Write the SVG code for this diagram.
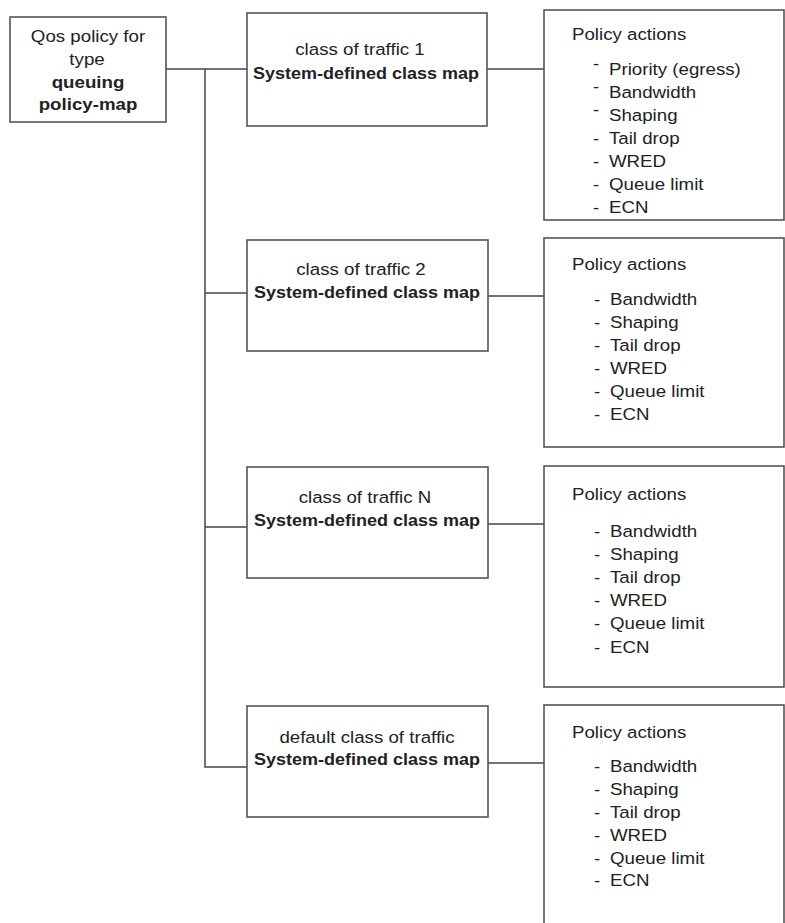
<svg xmlns="http://www.w3.org/2000/svg" width="785" height="923" viewBox="0 0 785 923">
<style>
.box{fill:#fff;stroke:#555;stroke-width:1.6}
.ln{stroke:#444;stroke-width:1.5;fill:none}
text{font-family:"Liberation Sans",Arial,sans-serif;fill:#222;font-size:17px}
.b{font-weight:bold}
.c{text-anchor:middle}
</style>
<rect width="785" height="923" fill="#fff"/>
<g id="connectors">
<path class="ln" d="M166 69H247M205 69V767H247M205 293H247M205 527H247"/>
<path class="ln" d="M487 69H544M488 296H544M488 524H544M488 763H544"/>
</g>
<g id="root">
<rect class="box" x="10" y="17" width="156" height="105"/>
<text class="c" transform="translate(88,42) scale(1.1,1)">Qos policy for</text>
<text class="c" transform="translate(87,65) scale(1.1,1)">type</text>
<text class="b c" transform="translate(88,88) scale(1.1,1)">queuing</text>
<text class="b c" transform="translate(88,110) scale(1.1,1)">policy-map</text>
</g>
<g id="class1">
<rect class="box" x="247" y="13" width="240" height="113"/>
<text class="c" transform="translate(360,55) scale(1.1,1)">class of traffic 1</text>
<text class="b c" transform="translate(366,79) scale(1.06,1)">System-defined class map</text>
</g>
<g id="class2">
<rect class="box" x="247" y="240" width="241" height="111"/>
<text class="c" transform="translate(361,275) scale(1.1,1)">class of traffic 2</text>
<text class="b c" transform="translate(367,298) scale(1.06,1)">System-defined class map</text>
</g>
<g id="classN">
<rect class="box" x="247" y="467" width="241" height="111"/>
<text class="c" transform="translate(365,503) scale(1.1,1)">class of traffic N</text>
<text class="b c" transform="translate(367,526) scale(1.06,1)">System-defined class map</text>
</g>
<g id="classDefault">
<rect class="box" x="247" y="706" width="241" height="111"/>
<text class="c" transform="translate(367,743) scale(1.1,1)">default class of traffic</text>
<text class="b c" transform="translate(367,765) scale(1.06,1)">System-defined class map</text>
</g>
<g id="actions1">
<rect class="box" x="544" y="10" width="240" height="210"/>
<g transform="translate(572,0) scale(1.1,1)">
<text x="0" y="40">Policy actions</text>
<text x="19" y="69">-</text><text x="33.6" y="75">Priority (egress)</text>
<text x="19" y="92">-</text><text x="33.6" y="98">Bandwidth</text>
<text x="19" y="115">-</text><text x="33.6" y="121">Shaping</text>
<text x="19" y="144">-</text><text x="33.6" y="144">Tail drop</text>
<text x="19" y="167">-</text><text x="33.6" y="167">WRED</text>
<text x="19" y="190">-</text><text x="33.6" y="190">Queue limit</text>
<text x="19" y="213">-</text><text x="33.6" y="213">ECN</text>
</g>
</g>
<g id="actions2">
<rect class="box" x="544" y="238" width="240" height="209"/>
<g transform="translate(572,0) scale(1.1,1)">
<text x="0" y="270">Policy actions</text>
<text x="20" y="305">-</text><text x="34.5" y="305">Bandwidth</text>
<text x="20" y="328">-</text><text x="34.5" y="328">Shaping</text>
<text x="20" y="351">-</text><text x="34.5" y="351">Tail drop</text>
<text x="20" y="374">-</text><text x="34.5" y="374">WRED</text>
<text x="20" y="397">-</text><text x="34.5" y="397">Queue limit</text>
<text x="20" y="420">-</text><text x="34.5" y="420">ECN</text>
</g>
</g>
<g id="actionsN">
<rect class="box" x="544" y="466" width="240" height="221"/>
<g transform="translate(572,0) scale(1.1,1)">
<text x="0" y="500">Policy actions</text>
<text x="20" y="537">-</text><text x="34.5" y="537">Bandwidth</text>
<text x="20" y="560">-</text><text x="34.5" y="560">Shaping</text>
<text x="20" y="583">-</text><text x="34.5" y="583">Tail drop</text>
<text x="20" y="606">-</text><text x="34.5" y="606">WRED</text>
<text x="20" y="629">-</text><text x="34.5" y="629">Queue limit</text>
<text x="20" y="653">-</text><text x="34.5" y="653">ECN</text>
</g>
</g>
<g id="actionsDefault">
<rect class="box" x="544" y="705" width="240" height="230"/>
<g transform="translate(572,0) scale(1.1,1)">
<text x="0" y="738">Policy actions</text>
<text x="20" y="772">-</text><text x="34.5" y="772">Bandwidth</text>
<text x="20" y="795">-</text><text x="34.5" y="795">Shaping</text>
<text x="20" y="818">-</text><text x="34.5" y="818">Tail drop</text>
<text x="20" y="841">-</text><text x="34.5" y="841">WRED</text>
<text x="20" y="864">-</text><text x="34.5" y="864">Queue limit</text>
<text x="20" y="886">-</text><text x="34.5" y="886">ECN</text>
</g>
</g>
</svg>
